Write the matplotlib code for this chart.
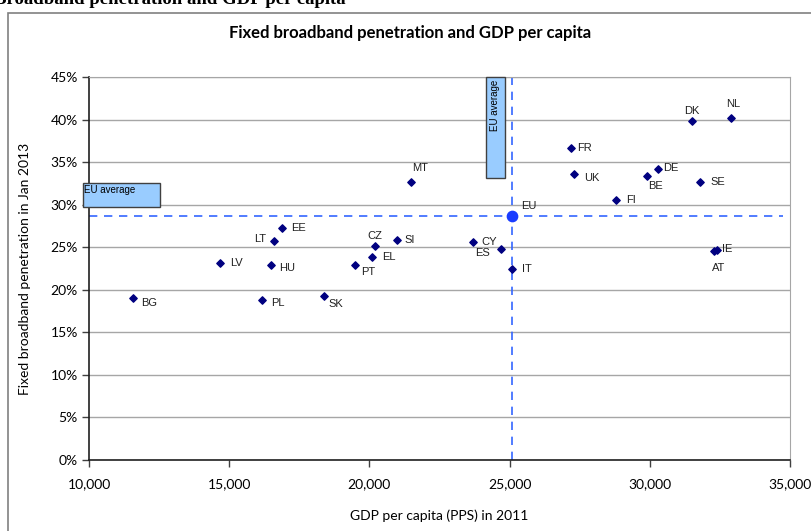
import numpy as np
import matplotlib
matplotlib.use("Agg")
from matplotlib import pyplot as plt
from matplotlib.patches import Rectangle

# GDP per capita (PPS) 2011 and fixed broadband penetration Jan 2013 (%)
countries = ['BG', 'LV', 'LT', 'EE', 'HU', 'PL', 'SK', 'PT', 'EL', 'CZ', 'SI', 'MT', 'CY',
             'ES', 'IT', 'FR', 'UK', 'FI', 'BE', 'DE', 'SE', 'DK', 'NL', 'AT', 'IE']
gdp = [11570, 14670, 16600, 16880, 16490, 16170, 18380, 19490, 20090, 20200, 20980, 21480, 23690,
       24690, 25080, 27190, 27300, 28790, 29900, 30290, 31790, 31500, 32890, 32290, 32400]
bb = [19.0, 23.1, 25.7, 27.2, 22.9, 18.8, 19.3, 22.9, 23.8, 25.2, 25.9, 32.7, 25.6,
      24.8, 22.5, 36.7, 33.6, 30.6, 33.4, 34.2, 32.7, 39.8, 40.2, 24.6, 24.7]
eu_gdp = 25080
eu_bb = 28.7

# label offsets in pixels (dx, dy) and alignment
offs = {'BG': (8, -5, 'left'), 'LV': (10, 0, 'left'), 'LT': (-8, 2, 'right'), 'EE': (9, 0, 'left'),
        'HU': (8, -3, 'left'), 'PL': (9, -3, 'left'), 'SK': (5, -8, 'left'), 'PT': (6, -7, 'left'),
        'EL': (10, 0, 'left'), 'CZ': (0, 10, 'center'), 'SI': (8, 0, 'left'), 'MT': (9, 14, 'center'),
        'CY': (9, 0, 'left'), 'ES': (-11, -4, 'right'), 'IT': (10, 0, 'left'), 'FR': (6, 0, 'left'),
        'UK': (10, -4, 'left'), 'FI': (10, 0, 'left'), 'BE': (9, -10, 'center'), 'DE': (5, 1, 'left'),
        'SE': (10, 0, 'left'), 'DK': (0, 10, 'center'), 'NL': (2, 14, 'center'), 'AT': (5, -17, 'center'),
        'IE': (5, 1, 'left')}

fig = plt.figure(figsize=(8.12, 5.31), dpi=100)
ax = fig.add_axes([89/812, 1-460/531, (790-89)/812, (460-77)/531])

# outer frame and cut-off heading
fig.patches.append(Rectangle((8/812, -0.1), 1.0, 1-13/531+0.1, transform=fig.transFigure,
                             fill=False, edgecolor='#808080', lw=1.2))
fig.text(-6/812, 1-4.5/531, 'Broadband penetration and GDP per capita', family='Liberation Serif',
         weight='bold', fontsize=13.5, va='baseline', ha='left')
fig.text(0.505, 1-33/531, 'Fixed broadband penetration and GDP per capita', family='Lato',
         weight='bold', fontsize=12, ha='center', va='center')

ax.set_xlim(10000, 35000)
ax.set_ylim(0, 45)
ax.set_yticks(np.arange(0, 46, 5))
ax.set_yticklabels([f'{v}%' for v in range(0, 46, 5)])
ax.set_xticks(np.arange(10000, 35001, 5000))
ax.set_xticklabels([f'{v:,}' for v in range(10000, 35001, 5000)])
for t in ax.get_xticklabels() + ax.get_yticklabels():
    t.set_family('Lato')
    t.set_fontsize(10)
ax.tick_params(direction='out', length=5, width=1, color='#404040', pad=3)
ax.tick_params(axis='x', pad=8)
ax.grid(axis='y', color='#a6a6a6', lw=1)
ax.set_axisbelow(True)
for s in ['top', 'right']:
    ax.spines[s].set_color('#a6a6a6')
for s in ['left', 'bottom']:
    ax.spines[s].set_color('#202020')
    ax.spines[s].set_linewidth(1.2)

ax.set_ylabel('Fixed broadband penetration in Jan 2013', family='Lato', fontsize=10, labelpad=14)
ax.set_xlabel('GDP per capita (PPS) in 2011', family='Lato', fontsize=10, labelpad=14)

# EU average lines
ax.plot([10000, 34750], [eu_bb, eu_bb], color='#3366ff', lw=1.2, ls=(0, (5, 4)))
ax.plot([eu_gdp, eu_gdp], [0, 45], color='#3366ff', lw=1.2, ls=(0, (5, 4)))

ax.scatter(gdp, bb, marker='D', s=14, color='#000080', zorder=3)
ax.scatter([eu_gdp], [eu_bb], marker='o', s=55, color='#1a3cff', zorder=3)

for c, x, y in zip(countries, gdp, bb):
    dx, dy, ha = offs[c]
    ax.annotate(c, (x, y), xytext=(dx, dy), textcoords='offset pixels', ha=ha, va='center',
                family='Liberation Sans', fontsize=8, color='#202020')
ax.annotate('EU', (eu_gdp, eu_bb), xytext=(9, 10), textcoords='offset pixels', ha='left',
            va='center', family='Liberation Sans', fontsize=8, color='#202020')

# "EU average" boxes
ax.add_patch(Rectangle((9786, 29.7), 12532-9786, 32.55-29.7, facecolor='#99ccff',
                       edgecolor='#404040', lw=1, clip_on=False, zorder=4))
ax.text(9830, 32.3, 'EU average', family='Liberation Sans', fontsize=7, va='top', ha='left',
        zorder=5, clip_on=False)
ax.add_patch(Rectangle((24157, 33.1), 24835-24157, 45-33.1, facecolor='#99ccff',
                       edgecolor='#404040', lw=1, clip_on=False, zorder=4))
ax.text((24157+24835)/2, 44.7, 'EU average', family='Liberation Sans', fontsize=7, va='top',
        ha='center', rotation=90, zorder=5)

fig.savefig('out.png', dpi=100)
